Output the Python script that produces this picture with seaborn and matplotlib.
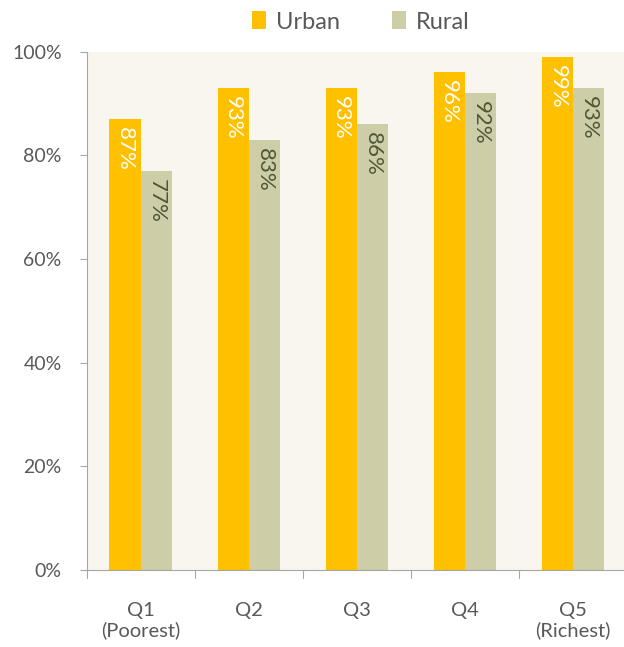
import matplotlib
matplotlib.use("Agg")
import matplotlib.pyplot as plt
import seaborn as sns
import pandas as pd
from matplotlib.patches import Patch

quintiles = ["Q1\n(Poorest)", "Q2", "Q3", "Q4", "Q5\n(Richest)"]
urban = [87, 93, 93, 96, 99]
rural = [77, 83, 86, 92, 93]
series = ["Urban", "Rural"]
y_ticks = [0, 20, 40, 60, 80, 100]

colors = {"Urban": "#FFC000", "Rural": "#CDCDA8"}
label_colors = {"Urban": "#FFFFFF", "Rural": "#4E5636"}

df = pd.DataFrame({
    "quintile": quintiles * 2,
    "value": urban + rural,
    "area": ["Urban"] * len(quintiles) + ["Rural"] * len(quintiles),
})

sns.set_theme(style="white")
plt.rcParams["font.family"] = ["Lato", "DejaVu Sans"]

fig = plt.figure(figsize=(6.24, 6.47), dpi=100)
ax = fig.add_axes([0.139, 0.119, 0.866, 0.801])
ax.set_facecolor("#F8F6EF")

sns.barplot(data=df, x="quintile", y="value", hue="area", hue_order=series,
            order=quintiles, palette=colors, width=0.58, ax=ax,
            edgecolor="none", legend=False, saturation=1)

for container, name in zip(ax.containers, series):
    for bar in container:
        h = bar.get_height()
        ax.text(bar.get_x() + bar.get_width() / 2, h - 1.5, f"{h:.0f}%",
                rotation=-90, ha="center", va="top",
                color=label_colors[name], fontsize=16)

ax.set_ylim(0, 100)
ax.set_xlim(-0.5, 4.5)
ax.set_yticks(y_ticks)
ax.set_yticklabels([f"{t}%" for t in y_ticks], fontsize=14, color="#595959")
ax.set_xlabel("")
ax.set_ylabel("")
ax.set_xticks(range(len(quintiles)))
ax.set_xticklabels(quintiles, fontsize=14.5, color="#595959", linespacing=1.15)
ax.tick_params(axis="x", length=0, pad=23)
ax.tick_params(axis="y", length=5, width=0.8, color="#A6A6A6", pad=13, left=True)

# category separator ticks on the bottom axis
for x in [-0.5, 0.5, 1.5, 2.5, 3.5, 4.5]:
    ax.plot([x, x], [0, -1.5], color="#A6A6A6", lw=0.8, clip_on=False)

for side in ["top", "right"]:
    ax.spines[side].set_visible(False)
for side in ["left", "bottom"]:
    ax.spines[side].set_color("#A6A6A6")
    ax.spines[side].set_linewidth(0.8)

handles = [Patch(facecolor=colors[s], edgecolor="none", label=s) for s in series]
fig.legend(handles=handles, loc="center", bbox_to_anchor=(0.578, 0.966), ncol=2,
           frameon=False, fontsize=17, handlelength=0.6, handleheight=0.8,
           handletextpad=0.4, columnspacing=2.2, labelcolor="#595959",
           borderpad=0)

fig.savefig("out.png", dpi=100, facecolor="white")
